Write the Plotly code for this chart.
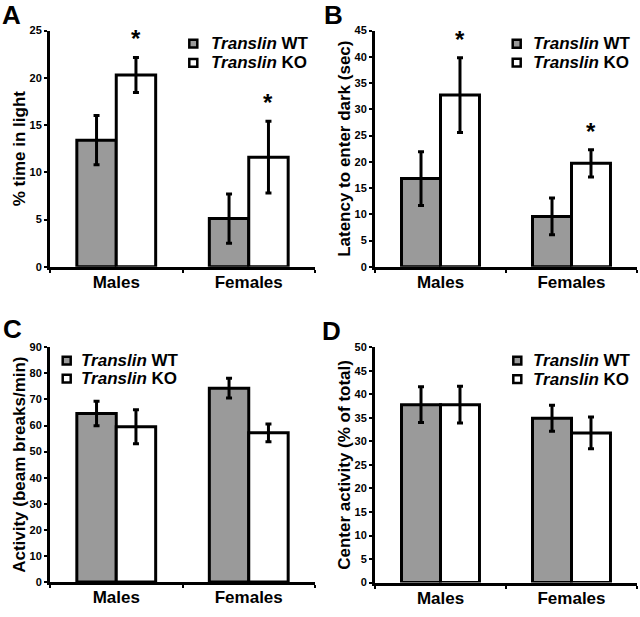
import plotly.graph_objects as go

# ---------------- data ----------------
groups = ["Males", "Females"]
series_labels = ["<b><i>Translin</i> WT</b>", "<b><i>Translin</i> KO</b>"]

a_wt = [13.4, 5.1]
a_wt_err = [2.6, 2.6]
a_ko = [20.3, 11.6]
a_ko_err = [1.85, 3.8]

b_wt = [16.8, 9.6]
b_wt_err = [5.1, 3.5]
b_ko = [32.7, 19.7]
b_ko_err = [7.1, 2.6]

c_wt = [64.6, 74.3]
c_wt_err = [4.7, 3.8]
c_ko = [59.5, 57.2]
c_ko_err = [6.5, 3.4]

d_wt = [37.8, 34.9]
d_wt_err = [3.8, 2.75]
d_ko = [37.8, 31.8]
d_ko_err = [3.9, 3.35]

panel_letters = ["A", "B", "C", "D"]
y_titles = ["% time in light", "Latency to enter dark (sec)",
            "Activity (beam breaks/min)", "Center activity (% of total)"]
y_max = [25, 45, 90, 50]
y_dtick = [5, 5, 10, 5]
# significance stars on KO bars (per group)
a_stars = [True, True]
b_stars = [True, True]
c_stars = [False, False]
d_stars = [False, False]

# ---------------- layout helpers ----------------
W, H = 640, 617
FONT = "Liberation Sans, Arial, Helvetica, sans-serif"
GRAY = "#9a9a9a"
COLORS = [GRAY, "white"]
BARGAP = 0.405

# pixel boxes (left, right, top, bottom)
boxes = [(50, 315, 25, 266), (375, 637, 25, 266),
         (50, 315, 348, 587.5), (375, 637, 348, 588)]
# legend: (square centre x, text left x, row1 centre y, row2 centre y)
legend_px = [(193.3, 209, 38.3, 58), (516.7, 531, 38.5, 57.7),
             (66.7, 79, 361.7, 380), (517.3, 531, 361.7, 380.5)]
letter_pos = [(0, 0), (322, 0), (1, 320), (320, 322)]

panels = [
    (a_wt, a_wt_err, a_ko, a_ko_err, a_stars),
    (b_wt, b_wt_err, b_ko, b_ko_err, b_stars),
    (c_wt, c_wt_err, c_ko, c_ko_err, c_stars),
    (d_wt, d_wt_err, d_ko, d_ko_err, d_stars),
]

fig = go.Figure()
annotations = []
shapes = []
layout_extra = {}

for i, (wt, wt_e, ko, ko_e, stars) in enumerate(panels):
    n = "" if i == 0 else str(i + 1)
    xa, ya = "x" + n, "y" + n
    for k, (vals, errs) in enumerate([(wt, wt_e), (ko, ko_e)]):
        fig.add_trace(go.Bar(
            x=groups, y=vals, name=series_labels[k], xaxis=xa, yaxis=ya,
            showlegend=False,
            marker=dict(color=COLORS[k], line=dict(color="black", width=3)),
            error_y=dict(type="data", array=errs, color="black", thickness=3, width=3),
            hoverinfo="skip",
        ))
    l, r, t, b = boxes[i]
    layout_extra["xaxis" + n] = dict(
        domain=[l / W, r / W], anchor=ya, type="category",
        showline=True, linewidth=3, linecolor="black", mirror=False,
        ticks="outside", tickson="boundaries", ticklen=3, tickwidth=2, tickcolor="black",
        showgrid=False, zeroline=False, ticklabelstandoff=-2,
        tickfont=dict(family=FONT, size=17, color="black", weight="bold"),
    )
    layout_extra["yaxis" + n] = dict(
        domain=[1 - b / H, 1 - t / H], anchor=xa,
        range=[0, y_max[i]], dtick=y_dtick[i], tick0=0,
        showline=True, linewidth=3, linecolor="black",
        ticks="outside", ticklen=3, tickwidth=2, tickcolor="black",
        showgrid=False, zeroline=False,
        tickfont=dict(family=FONT, size=11, color="black", weight="bold"),
        title=dict(text=y_titles[i], standoff=0,
                   font=dict(family=FONT, size=17, color="black", weight="bold")),
    )
    # legend (swatch + label) per panel
    sx, tx, ry1, ry2 = legend_px[i]
    for k, ry in enumerate([ry1, ry2]):
        shapes.append(dict(
            type="rect", xref="paper", yref="paper",
            x0=(sx - 4) / W, x1=(sx + 4) / W, y0=1 - (ry + 4) / H, y1=1 - (ry - 4) / H,
            line=dict(color="black", width=2.5), fillcolor=COLORS[k],
        ))
        annotations.append(dict(
            text=series_labels[k], x=tx / W, y=1 - ry / H, xref="paper", yref="paper",
            xanchor="left", yanchor="middle", showarrow=False,
            font=dict(family=FONT, size=17, color="black"),
        ))
    # panel letter
    px, py = letter_pos[i]
    annotations.append(dict(
        text=panel_letters[i], x=px / W, y=1 - py / H, xref="paper", yref="paper",
        xanchor="left", yanchor="top", showarrow=False, yshift=8,
        font=dict(family=FONT, size=26, color="black", weight="bold"),
    ))
    # stars above KO bars
    offset = (1 - BARGAP) / 4
    for j, s in enumerate(stars):
        if s:
            annotations.append(dict(
                text="*", x=j + offset, y=ko[j] + ko_e[j], xref=xa, yref=ya,
                xanchor="center", yanchor="bottom", showarrow=False, yshift=3,
                font=dict(family=FONT, size=24, color="black", weight="bold"),
            ))

fig.update_layout(
    width=W, height=H,
    margin=dict(l=0, r=0, t=0, b=0),
    paper_bgcolor="white", plot_bgcolor="white",
    barmode="group", bargap=BARGAP, bargroupgap=0,
    font=dict(family=FONT, color="black"),
    annotations=annotations, shapes=shapes,
    showlegend=False,
    **layout_extra,
)

fig.write_html("out.html", config={"displayModeBar": False},
               post_script="document.body.style.margin='0';")
